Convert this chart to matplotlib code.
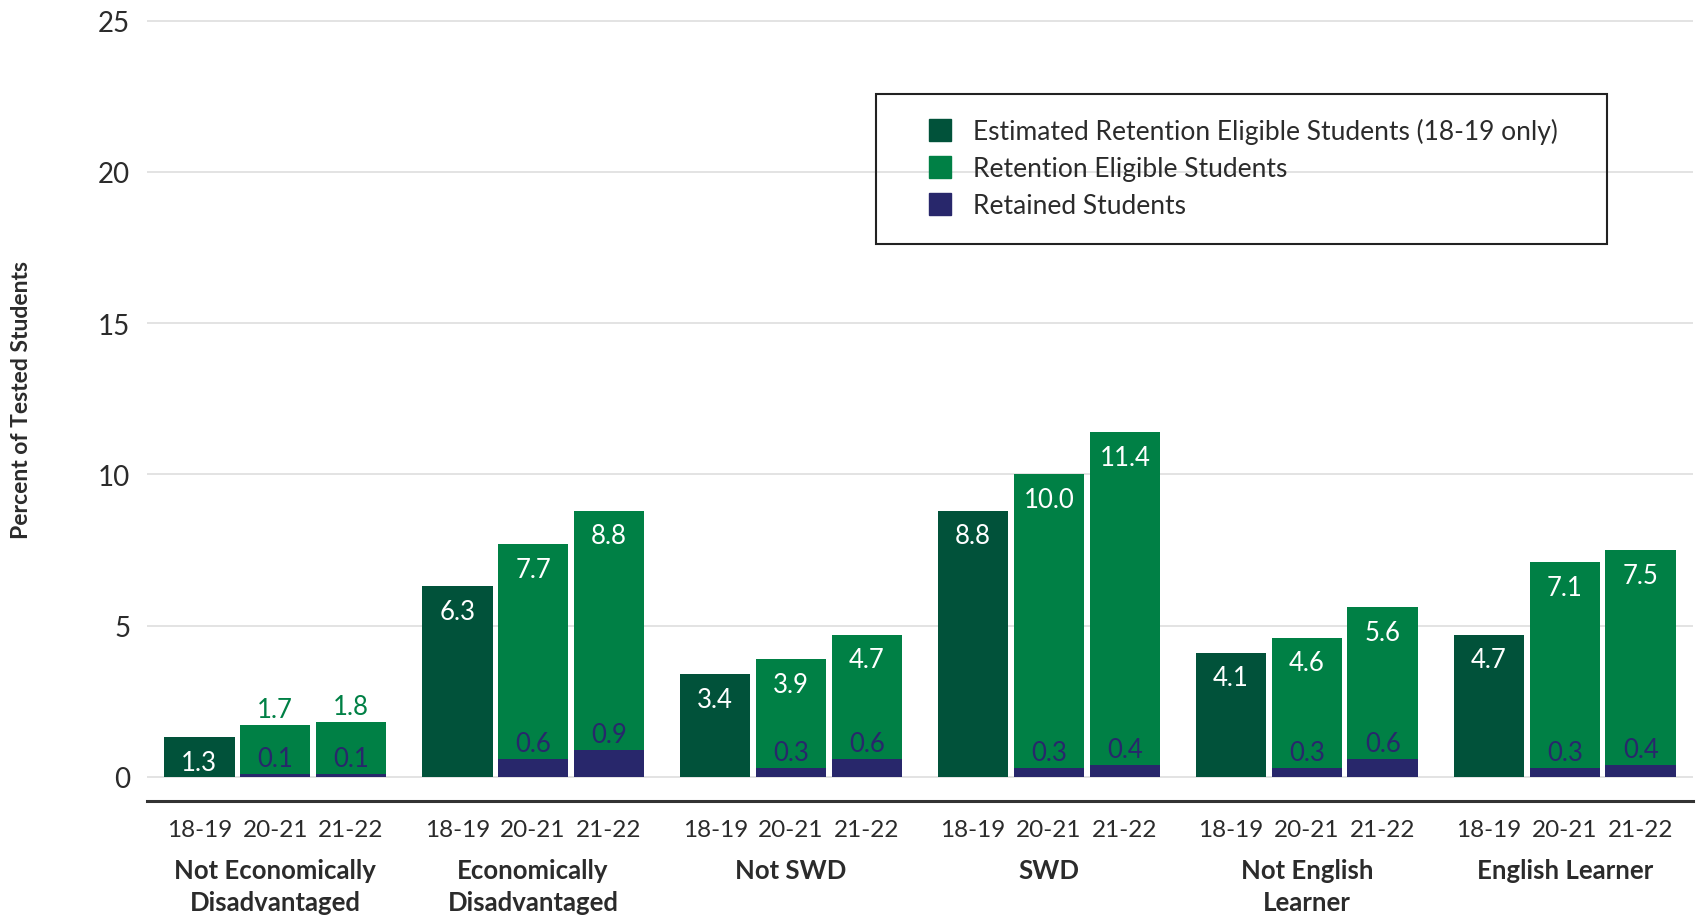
import matplotlib
matplotlib.use("Agg")
import matplotlib.pyplot as plt
import numpy as np
from matplotlib.lines import Line2D
from matplotlib.patches import Rectangle

GROUPS = [
    "Not Economically\nDisadvantaged",
    "Economically\nDisadvantaged",
    "Not SWD",
    "SWD",
    "Not English\nLearner",
    "English Learner",
]
YEARS = ["18-19", "20-21", "21-22"]

ESTIMATED_1819 = [1.3, 6.3, 3.4, 8.8, 4.1, 4.7]
ELIGIBLE_2021 = [1.7, 7.7, 3.9, 10.0, 4.6, 7.1]
ELIGIBLE_2122 = [1.8, 8.8, 4.7, 11.4, 5.6, 7.5]
RETAINED_2021 = [0.1, 0.6, 0.3, 0.3, 0.3, 0.3]
RETAINED_2122 = [0.1, 0.9, 0.6, 0.4, 0.6, 0.4]

DARK_GREEN = "#01523a"
GREEN = "#008045"
NAVY = "#28276b"
TEXT = "#2b2b2b"

plt.rcParams["font.family"] = ["Lato", "DejaVu Sans"]

GROUP_STEP = 3.4
BAR_WIDTH = 0.93


def label_inside(ax, x, value):
    ax.text(x, value - 0.42, f"{value:.1f}", ha="center", va="top",
            color="white", fontsize=18.5)


def label_above(ax, x, value, color):
    ax.text(x, value + 0.1, f"{value:.1f}", ha="center", va="bottom",
            color=color, fontsize=18.5)


def main():
    fig = plt.figure(figsize=(16.96, 9.2), dpi=100)
    ax = fig.add_axes([147 / 1696, 1 - 802 / 920, (1693 - 147) / 1696, (802 - 20) / 920])

    centers = np.arange(len(GROUPS)) * GROUP_STEP
    x_est = centers
    x_2021 = centers + 1
    x_2122 = centers + 2

    ax.bar(x_est, ESTIMATED_1819, width=BAR_WIDTH, color=DARK_GREEN, zorder=2)
    ax.bar(x_2021, ELIGIBLE_2021, width=BAR_WIDTH, color=GREEN, zorder=2)
    ax.bar(x_2122, ELIGIBLE_2122, width=BAR_WIDTH, color=GREEN, zorder=2)
    ax.bar(x_2021, RETAINED_2021, width=BAR_WIDTH, color=NAVY, zorder=3)
    ax.bar(x_2122, RETAINED_2122, width=BAR_WIDTH, color=NAVY, zorder=3)

    for i in range(len(GROUPS)):
        label_inside(ax, x_est[i], ESTIMATED_1819[i])
        for x, value in ((x_2021[i], ELIGIBLE_2021[i]), (x_2122[i], ELIGIBLE_2122[i])):
            if value >= 2:
                label_inside(ax, x, value)
            else:
                label_above(ax, x, value, GREEN)
        label_above(ax, x_2021[i], RETAINED_2021[i], NAVY)
        label_above(ax, x_2122[i], RETAINED_2122[i], NAVY)

    ax.set_ylim(-0.8, 25.05)
    ax.set_xlim(-0.69, centers[-1] + 2.69)
    ax.set_yticks(range(0, 26, 5))
    ax.yaxis.grid(True, color="#dedede", linewidth=1.2, zorder=0)
    ax.set_axisbelow(True)

    ticks = np.concatenate([x_est, x_2021, x_2122])
    ax.set_xticks(ticks)
    ax.set_xticklabels([YEARS[0]] * len(GROUPS) + [YEARS[1]] * len(GROUPS) + [YEARS[2]] * len(GROUPS))
    ax.tick_params(axis="x", length=0, pad=13, labelsize=17.5, labelcolor=TEXT)
    ax.tick_params(axis="y", length=0, pad=12, labelsize=20, labelcolor=TEXT)

    for side in ("top", "right", "left"):
        ax.spines[side].set_visible(False)
    ax.spines["bottom"].set_color("#333333")
    ax.spines["bottom"].set_linewidth(2.2)

    for center, name in zip(centers + 1, GROUPS):
        ax.annotate(name, xy=(center, 0), xycoords=("data", "axes fraction"),
                    xytext=(0, -41), textcoords="offset points",
                    ha="center", va="top", fontsize=18.5, fontweight="bold",
                    color=TEXT, linespacing=1.42)

    fig.text(22 / 1696, 1 - 400 / 920, "Percent of Tested Students", rotation=90,
             ha="center", va="center", fontsize=16.5, fontweight="bold", color=TEXT)

    # legend box drawn by hand, entries by matplotlib
    fig.add_artist(Rectangle((876 / 1696, 1 - 245 / 920), (1607 - 876) / 1696, 150 / 920,
                             transform=fig.transFigure, fill=False,
                             edgecolor="#222222", linewidth=1.5))
    handles = [
        Line2D([], [], linestyle="none", marker="s", markersize=16, color=DARK_GREEN),
        Line2D([], [], linestyle="none", marker="s", markersize=16, color=GREEN),
        Line2D([], [], linestyle="none", marker="s", markersize=16, color=NAVY),
    ]
    labels = [
        "Estimated Retention Eligible Students (18-19 only)",
        "Retention Eligible Students",
        "Retained Students",
    ]
    fig.legend(handles, labels, loc="upper left",
               bbox_to_anchor=(927 / 1696, 1 - 119 / 920), frameon=False,
               fontsize=19, handlelength=1.0, handletextpad=0.75,
               labelspacing=0.45, borderpad=0, borderaxespad=0, labelcolor=TEXT)

    fig.savefig("out.png", dpi=100)


if __name__ == "__main__":
    main()
